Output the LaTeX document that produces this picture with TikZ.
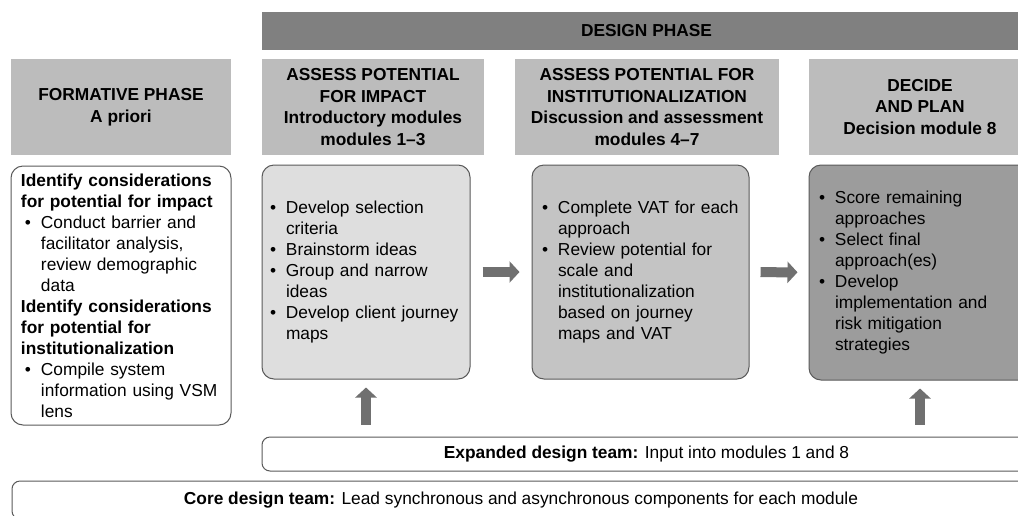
\documentclass[tikz,border=0pt]{standalone}
\usepackage{fontspec}
\setmainfont{Liberation Sans}
\usetikzlibrary{arrows.meta}
\newlength\px
\setlength\px{0.75pt}
\newcommand{\bul}{\makebox[20\px][l]{\hspace{4\px}\textbullet}}
\newcommand{\ind}{\hspace*{20\px}}
\definecolor{barfill}{RGB}{128,128,128}
\definecolor{headfill}{RGB}{188,188,188}
\definecolor{impactfill}{RGB}{222,222,222}
\definecolor{instfill}{RGB}{196,196,196}
\definecolor{decidefill}{RGB}{156,156,156}
\definecolor{arrowgray}{RGB}{112,112,112}
\definecolor{edgegray}{RGB}{90,90,90}
\tikzset{
  bar/.style={fill=barfill, minimum width=576.75pt, minimum height=28.5pt, inner sep=0pt,
    font=\bfseries\fontsize{13pt}{16pt}\selectfont},
  phase/.style={fill=headfill, minimum height=72pt, inner sep=0pt, align=center,
    font=\bfseries\fontsize{13pt}{16.3pt}\selectfont},
  stagebox/.style={draw=edgegray, line width=0.75pt, rounded corners=9pt, align=left,
    inner ysep=0pt, font=\fontsize{13pt}{15.75pt}\selectfont},
  teambox/.style={draw=edgegray, line width=0.75pt, rounded corners=6pt, fill=white,
    inner sep=0pt, font=\fontsize{13pt}{16pt}\selectfont},
  flow/.style={draw=arrowgray, line width=7.5pt, -{Triangle[width=15.75pt,length=7.5pt]}}
}
\begin{document}
\begin{tikzpicture}[x=0.75pt, y=-0.75pt]
    \useasboundingbox [fill=white] (0,0) rectangle (1018,515);
    \node [bar] (design) at (646.5,31) {DESIGN PHASE};
    \node [phase, minimum width=165pt] (formhead) at (121,107) {FORMATIVE PHASE\\A priori};
    \node [phase, minimum width=166.5pt] (impacthead) at (373,107) {ASSESS POTENTIAL\\FOR IMPACT\\Introductory modules\\modules 1--3};
    \node [phase, minimum width=198pt] (insthead) at (647,107) {ASSESS POTENTIAL FOR\\INSTITUTIONALIZATION\\Discussion and assessment\\modules 4--7};
    \node [phase, minimum width=166.5pt] (decidehead) at (920,107) {DECIDE\\AND PLAN\\Decision module 8};
    \node [stagebox, fill=white, inner xsep=7.5pt, text width=150pt, minimum height=194.25pt] (form) at (121,295.5) {%
        \textbf{Identify considerations}\\
        \textbf{for potential for impact}\\
        \bul Conduct barrier and\\
        \ind facilitator analysis,\\
        \ind review demographic\\
        \ind data\\
        \textbf{Identify considerations}\\
        \textbf{for potential for}\\
        \textbf{institutionalization}\\
        \bul Compile system\\
        \ind information using VSM\\
        \ind lens};
    \node [stagebox, fill=impactfill, inner xsep=3pt, text width=150pt, minimum height=160.5pt] (impact) at (366,272) {%
        \bul Develop selection\\
        \ind criteria\\
        \bul Brainstorm ideas\\
        \bul Group and narrow\\
        \ind ideas\\
        \bul Develop client journey\\
        \ind maps};
    \node [stagebox, fill=instfill, inner xsep=4.5pt, text width=153.75pt, minimum height=160.5pt] (inst) at (640.5,272) {%
        \bul Complete VAT for each\\
        \ind approach\\
        \bul Review potential for\\
        \ind scale and\\
        \ind institutionalization\\
        \ind based on journey\\
        \ind maps and VAT};
    \node [stagebox, fill=decidefill, inner xsep=4.5pt, text width=157.5pt, minimum height=161.25pt] (decide) at (920,272.5) {%
        \bul Score remaining\\
        \ind approaches\\
        \bul Select final\\
        \ind approach(es)\\
        \bul Develop\\
        \ind implementation and\\
        \ind risk mitigation\\
        \ind strategies};
    \node [teambox, minimum width=576.75pt, minimum height=25.5pt] (expanded) at (646.5,454) {\textbf{Expanded design team:} Input into modules 1 and 8};
    \node [teambox, minimum width=763.5pt, minimum height=28.5pt] (core) at (521,500) {\textbf{Core design team:} Lead synchronous and asynchronous components for each module};
    \draw [flow, shorten <=9pt, shorten >=9pt] (impact) -- (inst);
    \draw [flow, shorten <=8.25pt, shorten >=8.25pt] (inst) -- (decide);
    \draw [flow, shorten <=9pt, shorten >=6pt] (expanded.north -| impact.south) -- (impact.south);
    \draw [flow, shorten <=9pt, shorten >=6pt] (expanded.north -| decide.south) -- (decide.south);
\end{tikzpicture}
\end{document}
